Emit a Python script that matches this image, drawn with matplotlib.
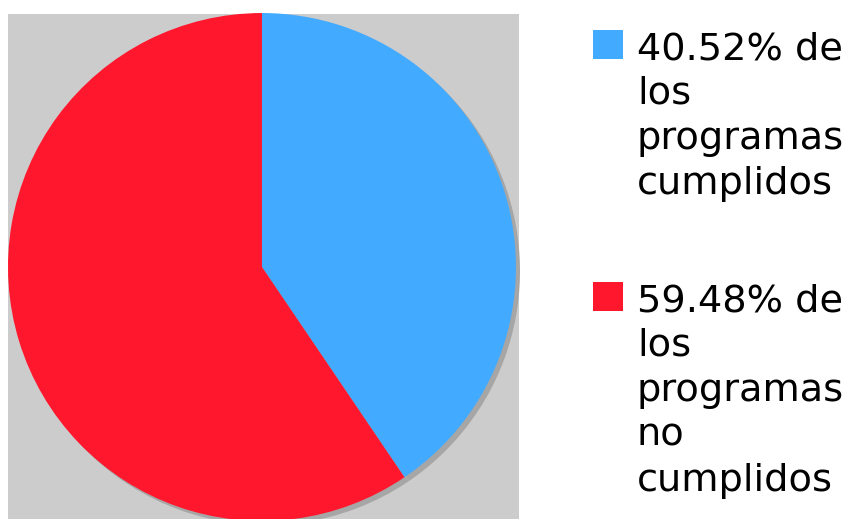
import matplotlib.pyplot as plt
from matplotlib.patches import Rectangle

# datos del grafico
valores = [40.52, 59.48]
colores = ['#42aaff', '#ff182d']
textos = ['de\nlos\nprogramas\ncumplidos', 'de\nlos\nprogramas\nno\ncumplidos']
etiquetas = ['{:.2f}% {}'.format(v, t) for v, t in zip(valores, textos)]

W, H = 860, 519
fig = plt.figure(figsize=(W / 100, H / 100), dpi=100)

# eje del pastel con fondo gris
ax = fig.add_axes([8 / W, 0, 511 / W, 505 / H])
ax.set_facecolor('#cccccc')
for s in ax.spines.values():
    s.set_visible(False)

# sombra
ax.pie(valores, colors=['#a6a6a6'] * len(valores), startangle=90, counterclock=False,
       center=(0.016, -0.016), wedgeprops=dict(linewidth=0), frame=True)
ax.pie(valores, colors=colores, startangle=90, counterclock=False,
       wedgeprops=dict(linewidth=0), frame=True)
for p in ax.patches:
    p.set_clip_on(False)
ax.set_xlim(-1.0, 1.012)
ax.set_ylim(-0.992, 0.996)
ax.set_aspect('equal')
ax.set_xticks([])
ax.set_yticks([])

# leyenda a mano
y_cuadro = [30, 282]
for col, lab, yc in zip(colores, etiquetas, y_cuadro):
    fig.patches.append(Rectangle((593 / W, 1 - (yc + 29) / H), 30 / W, 29 / H,
                                 transform=fig.transFigure, color=col, linewidth=0))
    fig.text(637 / W, 1 - (yc + 1) / H, lab, fontsize=27.5, va='top', ha='left',
             linespacing=1.32, family='DejaVu Sans')

fig.savefig('out.png', dpi=100)
